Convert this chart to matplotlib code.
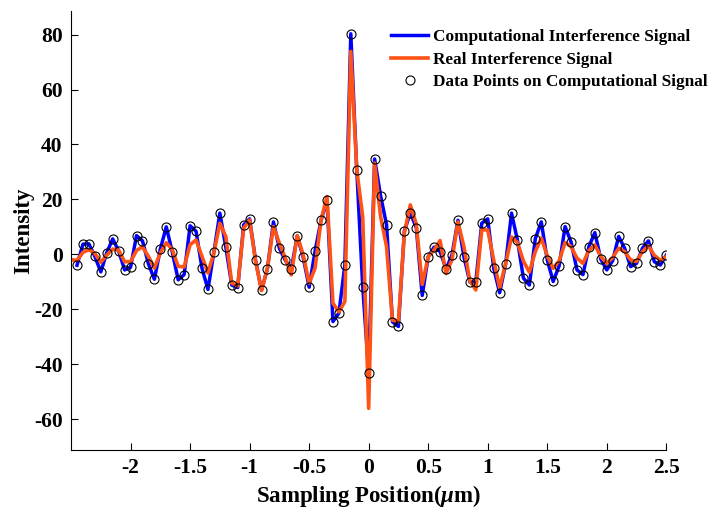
import numpy as np
import matplotlib
matplotlib.use('Agg')
import matplotlib.pyplot as plt

plt.rcParams['font.family'] = ['Liberation Serif', 'DejaVu Serif']
plt.rcParams['font.weight'] = 'bold'
plt.rcParams['axes.unicode_minus'] = False
plt.rcParams['mathtext.fontset'] = 'custom'
plt.rcParams['mathtext.it'] = 'Liberation Serif:italic:bold'
plt.rcParams['mathtext.rm'] = 'Liberation Serif:bold'

# sampling positions (um)
x_start = -2.45
x_step = 0.05

# computational interference signal (sampled points)
computational = [
    -4.0, 3.7, 3.8, -0.8, -6.4, 0.6, 5.6, 1.2, -5.7, -4.7,
    6.8, 4.9, -3.5, -9.1, 1.9, 10.0, 0.9, -9.3, -7.4, 10.4,
    8.4, -5.1, -12.8, 0.8, 15.0, 2.6, -11.2, -12.1, 10.7, 12.9,
    -2.2, -13.1, -5.2, 11.8, 2.2, -2.2, -5.4, 6.7, -1.1, -12.0,
    1.2, 12.4, 19.7, -24.5, -21.4, -3.9, 80.3, 30.8, -11.8, -43.1,
    34.7, 21.4, 10.8, -24.6, -26.3, 8.5, 15.1, 9.7, -15.0, -0.9,
    2.6, 1.0, -5.4, -0.2, 12.4, -0.9, -10.1, -10.1, 11.3, 12.9,
    -5.0, -14.0, -3.7, 15.0, 5.1, -8.7, -11.2, 5.7, 11.8, -2.0,
    -9.9, -4.2, 10.1, 4.5, -5.7, -7.4, 2.8, 7.9, -1.8, -5.7,
    -2.3, 6.5, 2.2, -4.5, -3.3, 2.2, 4.9, -2.7, -3.9, -0.3,
]

# real interference signal (starts one sample earlier, at -2.5)
real_first = -2.0
real = [
    -2.2, 0.7, 1.7, 0.3, -2.9, -0.3, 1.9, 1.5, -2.7, -2.7,
    1.4, 2.7, -0.8, -5.0, 0.5, 4.2, 1.7, -4.4, -4.6, 3.5,
    5.2, -0.8, -6.8, 0.5, 11.3, 6.5, -10.5, -11.5, 9.5, 12.5,
    -2.6, -13.2, -5.0, 10.1, 4.0, -1.4, -7.5, 6.8, -0.2, -10.5,
    -5.0, 12.4, 21.0, -17.8, -21.0, -17.2, 73.9, 30.8, 13.7, -56.1,
    33.2, 13.8, 2.8, -24.0, -24.5, 7.8, 18.0, 11.0, -11.0, -1.0,
    1.6, 5.0, -7.0, -2.0, 11.8, 2.8, -9.7, -13.0, 8.9, 8.9,
    -2.0, -12.2, -3.5, 6.3, 4.3, -2.5, -6.5, 1.0, 5.9, -0.5,
    -5.1, -2.4, 4.3, 2.8, -1.4, -3.3, 1.4, 3.4, -0.8, -3.3,
    -1.2, 2.2, 1.0, -2.0, -2.6, 1.0, 3.1, -0.4, -2.2, -0.8,
]

x = x_start + x_step * np.arange(len(computational))
x_real = np.r_[x_start - x_step, x]
y_real = np.r_[real_first, real]

fig = plt.figure(figsize=(7.25, 5.12), dpi=100)
ax = fig.add_axes([0.098, 0.121, 0.821, 0.858])

ax.plot(x, computational, color='#0000FF', linewidth=2.5,
        label='Computational Interference Signal')
ax.plot(x_real, y_real, color='#FF5215', linewidth=2.6,
        label='Real Interference Signal')
ax.plot(x, computational, linestyle='none', marker='o', markersize=6.5,
        markerfacecolor='none', markeredgecolor='black', markeredgewidth=0.8,
        label='Data Points on Computational Signal')

ax.set_xlim(-2.5, 2.5)
ax.set_ylim(-71.3, 88.7)
ax.set_xticks([-2, -1.5, -1, -0.5, 0, 0.5, 1, 1.5, 2, 2.5])
ax.set_xticklabels(['-2', '-1.5', '-1', '-0.5', '0', '0.5', '1', '1.5', '2', '2.5'])
ax.set_yticks([-60, -40, -20, 0, 20, 40, 60, 80])
ax.tick_params(direction='in', length=5, width=0.8, labelsize=15.5, pad=6)
for lab in ax.get_xticklabels() + ax.get_yticklabels():
    lab.set_fontweight('bold')

ax.spines['top'].set_visible(False)
ax.spines['right'].set_visible(False)

ax.set_xlabel('Sampling Position($\\mu$m)', fontsize=16.5, fontweight='bold', labelpad=3)
ax.set_ylabel('Intensity', fontsize=16.5, fontweight='bold', labelpad=0)

leg = ax.legend(loc='upper left', bbox_to_anchor=(0.538, 0.958), frameon=False,
                fontsize=12.4, handlelength=2.15, handletextpad=0.25,
                labelspacing=0.38, borderaxespad=0, borderpad=0)
for t in leg.get_texts():
    t.set_fontweight('bold')

fig.savefig('out.png', dpi=100)
